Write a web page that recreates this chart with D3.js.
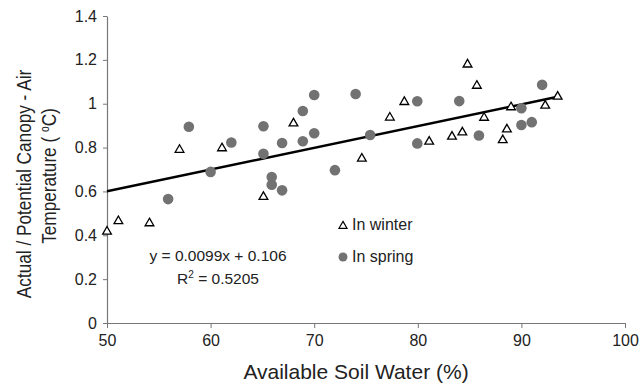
<!DOCTYPE html>
<html>
<head>
<meta charset="utf-8">
<script src="https://cdn.jsdelivr.net/npm/d3@7"></script>
<style>
  body { margin: 0; background: #fff; }
  svg { font-family: "Liberation Sans", Arial, sans-serif; }
</style>
</head>
<body>
<div id="chart"></div>
<script>
// winter points (triangles)
var winterX = [50, 51.1, 54.1, 57.0, 61.1, 65.1, 68.0, 74.6, 77.3, 78.7, 81.1, 83.3, 84.3, 84.8, 85.7, 86.4, 88.2, 88.6, 89.0, 92.3, 93.5];
var winterY = [0.417, 0.465, 0.455, 0.79, 0.797, 0.575, 0.91, 0.75, 0.937, 1.008, 0.827, 0.85, 0.869, 1.179, 1.082, 0.936, 0.834, 0.883, 0.984, 0.991, 1.032];

// spring points (circles)
var springX = [55.9, 57.9, 60.0, 62.0, 65.1, 65.1, 65.9, 65.9, 66.9, 66.9, 68.9, 68.9, 70.0, 70.0, 72.0, 74.0, 75.4, 79.95, 79.95, 84.0, 85.9, 90.0, 90.0, 91.0, 92.0];
var springY = [0.565, 0.895, 0.689, 0.823, 0.897, 0.772, 0.666, 0.631, 0.821, 0.605, 0.967, 0.829, 1.04, 0.865, 0.697, 1.044, 0.857, 1.011, 0.819, 1.012, 0.855, 0.979, 0.903, 0.916, 1.086];

// trend line y = 0.0099x + 0.106
var trendSlope = 0.0099;
var trendIntercept = 0.106;
var trendRange = [50, 93.5];

var xTicks = [50, 60, 70, 80, 90, 100];
var yTicks = [0, 0.2, 0.4, 0.6, 0.8, 1, 1.2, 1.4];

var width = 640, height = 387;
var margin = {top: 16, right: 15, bottom: 64, left: 107};

var svg = d3.select("#chart").append("svg")
    .attr("width", width)
    .attr("height", height);

var x = d3.scaleLinear().domain([50, 100]).range([margin.left, width - margin.right]);
var y = d3.scaleLinear().domain([0, 1.4]).range([height - margin.bottom, margin.top]);

// axes
var xAxis = svg.append("g")
    .attr("transform", "translate(0," + y(0) + ")")
    .call(d3.axisBottom(x).tickValues(xTicks).tickSize(5).tickSizeOuter(0).tickPadding(7).tickFormat(d3.format("d")));

var yAxis = svg.append("g")
    .attr("transform", "translate(" + x(50) + ",0)")
    .call(d3.axisLeft(y).tickValues(yTicks).tickSize(4).tickSizeOuter(0).tickPadding(6).tickFormat(function(d) { return d3.format("")(d); }));

[xAxis, yAxis].forEach(function(a) {
    a.select(".domain").attr("stroke", "#777").attr("stroke-width", 1.2);
    a.selectAll(".tick line").attr("stroke", "#777");
    a.selectAll(".tick text").attr("font-size", 16).attr("fill", "#222")
        .attr("font-family", "Liberation Sans, Arial, sans-serif");
});

// trend line
svg.append("line")
    .attr("x1", x(trendRange[0]))
    .attr("y1", y(trendSlope * trendRange[0] + trendIntercept))
    .attr("x2", x(trendRange[1]))
    .attr("y2", y(trendSlope * trendRange[1] + trendIntercept))
    .attr("stroke", "#000")
    .attr("stroke-width", 2.4);

// spring circles
svg.selectAll("circle.spring")
    .data(springX.map(function(d, i) { return [d, springY[i]]; }))
    .enter().append("circle")
    .attr("class", "spring")
    .attr("cx", function(d) { return x(d[0]); })
    .attr("cy", function(d) { return y(d[1]); })
    .attr("r", 5.3)
    .attr("fill", "#727272");

// winter triangles
var tri = d3.symbol().type(d3.symbolTriangle).size(33);
svg.selectAll("path.winter")
    .data(winterX.map(function(d, i) { return [d, winterY[i]]; }))
    .enter().append("path")
    .attr("class", "winter")
    .attr("d", tri)
    .attr("transform", function(d) { return "translate(" + x(d[0]) + "," + y(d[1]) + ")"; })
    .attr("fill", "#fff")
    .attr("stroke", "#000")
    .attr("stroke-width", 1.3);

// legend
svg.append("path")
    .attr("d", d3.symbol().type(d3.symbolTriangle).size(28))
    .attr("transform", "translate(343,226)")
    .attr("fill", "#fff").attr("stroke", "#000").attr("stroke-width", 1.2);
svg.append("text").attr("x", 352).attr("y", 230).attr("font-size", 16).attr("fill", "#222").text("In winter");
svg.append("circle").attr("cx", 343).attr("cy", 257).attr("r", 4.5).attr("fill", "#727272");
svg.append("text").attr("x", 352).attr("y", 262).attr("font-size", 16).attr("fill", "#222").text("In spring");

// equation
svg.append("text").attr("x", 218).attr("y", 261).attr("text-anchor", "middle")
    .attr("font-size", 15.5).attr("fill", "#222").text("y = 0.0099x + 0.106");
var r2 = svg.append("text").attr("x", 218).attr("y", 284).attr("text-anchor", "middle")
    .attr("font-size", 15.5).attr("fill", "#222");
r2.append("tspan").text("R");
r2.append("tspan").attr("dy", -6).attr("font-size", 10).text("2");
r2.append("tspan").attr("dy", 6).text(" = 0.5205");

// axis titles
svg.append("text")
    .attr("x", 356)
    .attr("y", 379)
    .attr("text-anchor", "middle")
    .attr("font-size", 21)
    .attr("fill", "#222")
    .text("Available Soil Water (%)");

var yTitle = svg.append("text")
    .attr("transform", "translate(31,184) rotate(-90) scale(0.86,1)")
    .attr("text-anchor", "middle")
    .attr("font-size", 20)
    .attr("fill", "#222");
yTitle.append("tspan").attr("x", 0).attr("y", 0).text("Actual / Potential Canopy - Air");
var t2 = svg.append("text")
    .attr("transform", "translate(56,176) rotate(-90) scale(0.86,1)")
    .attr("text-anchor", "middle")
    .attr("font-size", 20)
    .attr("fill", "#222");
t2.append("tspan").text("Temperature ( ");
t2.append("tspan").attr("dy", -7).attr("font-size", 12).text("o");
t2.append("tspan").attr("dy", 7).text("C)");
</script>
</body>
</html>
